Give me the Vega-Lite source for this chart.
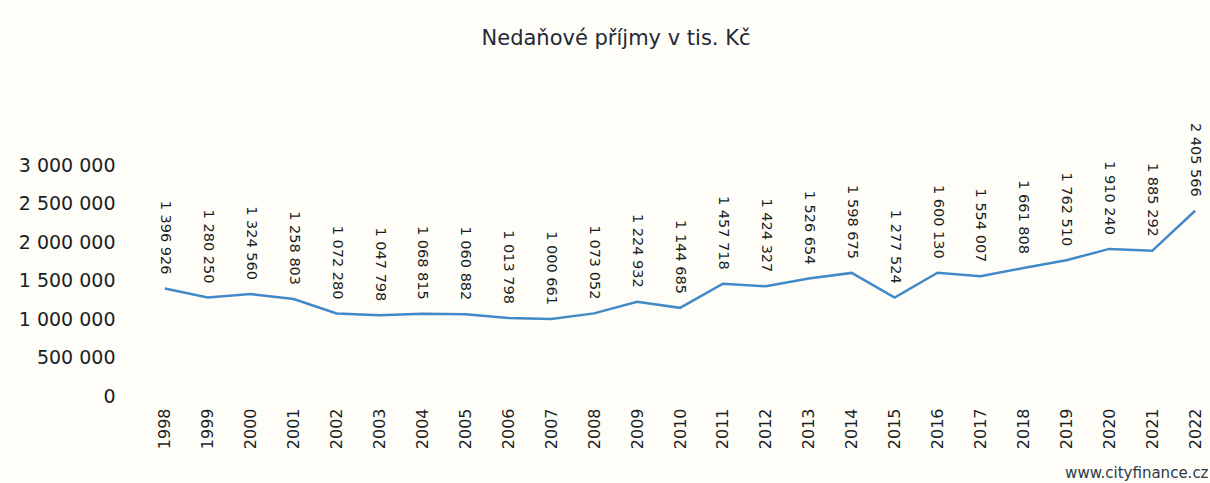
{
  "$schema": "https://vega.github.io/schema/vega-lite/v6.json",
  "width": 1056,
  "height": 231,
  "autosize": "none",
  "padding": {"left": 152, "top": 165, "right": 2, "bottom": 87},
  "background": "#fffdf7",
  "config": {
    "view": {"stroke": null},
    "font": "DejaVu Sans",
    "locale": {"number": {"decimal": ",", "thousands": " ", "grouping": [3], "currency": ["", " Kč"]}}
  },
  "title": {
    "text": "Nedaňové  příjmy v tis. Kč",
    "fontSize": 21,
    "fontWeight": "normal",
    "color": "#1f2a36",
    "anchor": "middle",
    "dx": -64,
    "offset": 74
  },
  "data": {
    "values": [
      {"year": "1998", "value": 1396926},
      {"year": "1999", "value": 1280250},
      {"year": "2000", "value": 1324560},
      {"year": "2001", "value": 1258803},
      {"year": "2002", "value": 1072280},
      {"year": "2003", "value": 1047798},
      {"year": "2004", "value": 1068815},
      {"year": "2005", "value": 1060882},
      {"year": "2006", "value": 1013798},
      {"year": "2007", "value": 1000661},
      {"year": "2008", "value": 1073052},
      {"year": "2009", "value": 1224932},
      {"year": "2010", "value": 1144685},
      {"year": "2011", "value": 1457718},
      {"year": "2012", "value": 1424327},
      {"year": "2013", "value": 1526654},
      {"year": "2014", "value": 1598675},
      {"year": "2015", "value": 1277524},
      {"year": "2016", "value": 1600130},
      {"year": "2017", "value": 1554007},
      {"year": "2018", "value": 1661808},
      {"year": "2019", "value": 1762510},
      {"year": "2020", "value": 1910240},
      {"year": "2021", "value": 1885292},
      {"year": "2022", "value": 2405566}
    ]
  },
  "encoding": {
    "x": {
      "field": "year",
      "type": "ordinal",
      "scale": {"type": "point", "padding": 0.3},
      "axis": {
        "labelAngle": 270,
        "labelFontSize": 16,
        "labelColor": "#1a1f26",
        "labelPadding": 12,
        "ticks": false,
        "domain": false,
        "title": "www.cityfinance.cz",
        "titleAnchor": "end",
        "titleFontSize": 15,
        "titleFontWeight": "normal",
        "titleColor": "#2a3a4a",
        "titlePadding": 17
      }
    },
    "y": {
      "field": "value",
      "type": "quantitative",
      "scale": {"domain": [0, 3000000]},
      "axis": {
        "values": [0, 500000, 1000000, 1500000, 2000000, 2500000, 3000000],
        "format": ",d",
        "labelFontSize": 19,
        "labelColor": "#1a1f26",
        "labelPadding": 37,
        "ticks": false,
        "domain": false,
        "grid": false,
        "title": null
      }
    }
  },
  "layer": [
    {
      "mark": {"type": "line", "color": "#4189c7", "strokeWidth": 2.5}
    },
    {
      "mark": {"type": "text", "angle": 90, "align": "right", "baseline": "middle", "yOffset": -14, "fontSize": 14.5, "color": "#1a1f26"},
      "encoding": {
        "text": {"field": "value", "type": "quantitative", "format": ",d"}
      }
    }
  ]
}
